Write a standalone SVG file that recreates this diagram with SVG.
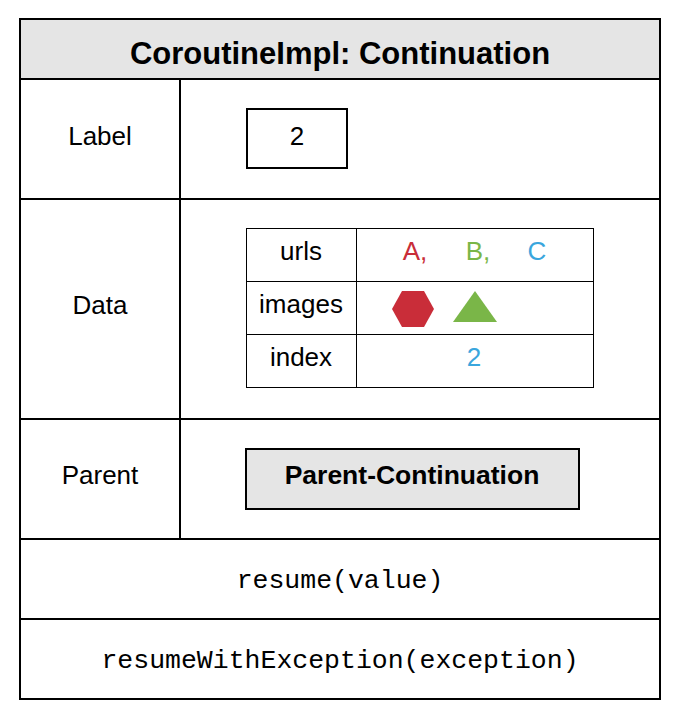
<svg xmlns="http://www.w3.org/2000/svg" width="675" height="713" viewBox="0 0 675 713">
  <style>
    .frame { fill: none; stroke: #000; stroke-width: 2; }
    .grid { stroke: #000; stroke-width: 2; }
    .thin { fill: none; stroke: #000; stroke-width: 1; }
    .txt { font-family: "Liberation Sans", Arial, sans-serif; font-size: 26px; fill: #000; text-anchor: middle; }
    .bold { font-weight: bold; }
    .title { font-size: 31px; }
    .mono { font-family: "Liberation Mono", "Courier New", monospace; font-size: 26.5px; fill: #000; text-anchor: middle; }
    .red { fill: #c92d39; }
    .green { fill: #7ab648; }
    .blue { fill: #3aa6dd; }
  </style>

  <rect x="0" y="0" width="675" height="713" fill="#fff"/>

  <!-- class header -->
  <g id="header">
    <rect x="20" y="19" width="640" height="60" fill="#e5e5e5"/>
    <text class="txt bold title" x="340" y="64">CoroutineImpl: Continuation</text>
  </g>

  <!-- section grid -->
  <g id="grid">
    <rect class="frame" x="20" y="19" width="640" height="680"/>
    <line class="grid" x1="20" y1="79" x2="660" y2="79"/>
    <line class="grid" x1="20" y1="199" x2="660" y2="199"/>
    <line class="grid" x1="20" y1="419" x2="660" y2="419"/>
    <line class="grid" x1="20" y1="539" x2="660" y2="539"/>
    <line class="grid" x1="20" y1="619" x2="660" y2="619"/>
    <line class="grid" x1="180" y1="79" x2="180" y2="539"/>
  </g>

  <!-- label row -->
  <g id="label">
    <text class="txt" x="100" y="145">Label</text>
    <rect class="frame" x="247" y="109" width="100" height="59"/>
    <text class="txt" x="297" y="145">2</text>
  </g>

  <!-- data row -->
  <g id="data">
    <text class="txt" x="100" y="314">Data</text>
    <rect class="thin" x="246.5" y="228.5" width="347" height="159"/>
    <line class="thin" x1="356.5" y1="228" x2="356.5" y2="388"/>
    <line class="thin" x1="246" y1="281.5" x2="594" y2="281.5"/>
    <line class="thin" x1="246" y1="334.5" x2="594" y2="334.5"/>
    <text class="txt" x="301" y="260">urls</text>
    <text class="txt" x="301" y="313">images</text>
    <text class="txt" x="301" y="366">index</text>
    <text class="txt red" x="415" y="260">A,</text>
    <text class="txt green" x="478" y="260">B,</text>
    <text class="txt blue" x="537" y="260">C</text>
    <polygon class="red" points="392,309 402,291 424,291 434,309 424,327 402,327"/>
    <polygon class="green" points="475,291 497,322 453,322"/>
    <text class="txt blue" x="474" y="366">2</text>
  </g>

  <!-- parent row -->
  <g id="parent">
    <text class="txt" x="100" y="484">Parent</text>
    <rect x="246" y="449" width="333" height="60" fill="#e5e5e5" stroke="#000" stroke-width="2"/>
    <text class="txt bold" x="412" y="484" style="font-size:26.5px">Parent-Continuation</text>
  </g>

  <!-- methods -->
  <g id="resume">
    <text class="mono" x="340" y="588">resume(value)</text>
  </g>
  <g id="resumeWithException">
    <text class="mono" x="340" y="668">resumeWithException(exception)</text>
  </g>
</svg>
